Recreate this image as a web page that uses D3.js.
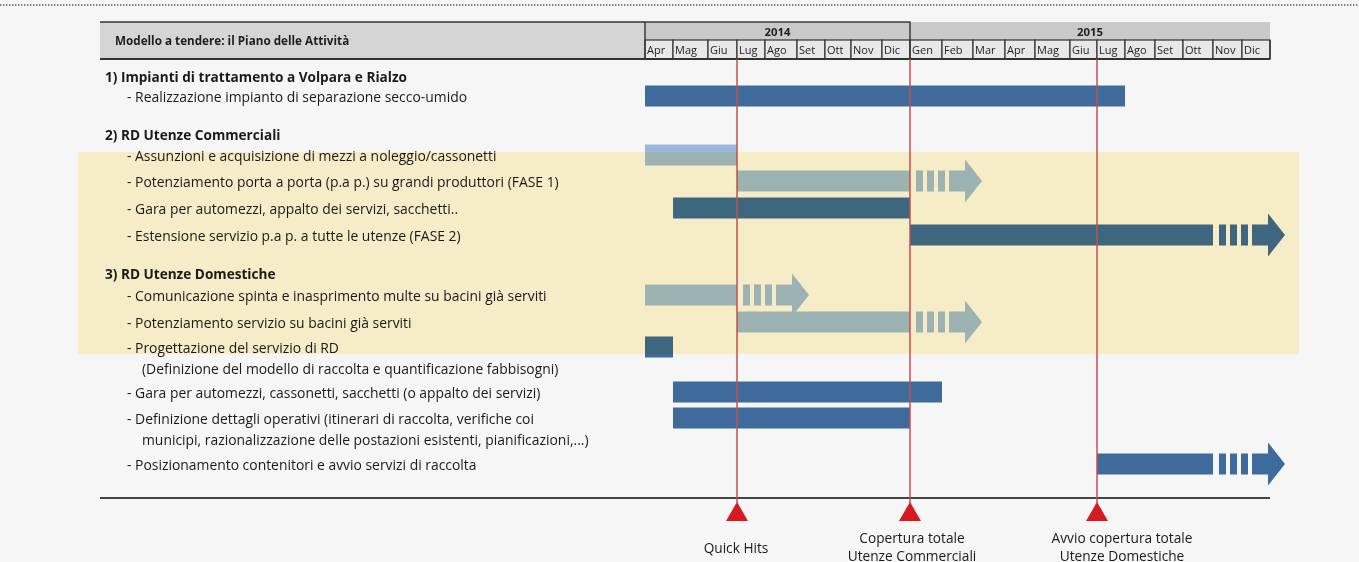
<!DOCTYPE html>
<html><head><meta charset="utf-8">
<script src="https://cdn.jsdelivr.net/npm/d3@7"></script>
<style>
html,body{margin:0;padding:0;background:#f6f6f6;}
svg{display:block;font-family:"Open Sans",Lato,sans-serif;}
</style></head>
<body>
<svg id="chart" width="1359" height="562"></svg>
<script>
// ---------- DATA ----------
const chartTitle = "Modello a tendere: il Piano delle Attività";
const years = ["2014", "2015"];
const months2014 = ["Apr","Mag","Giu","Lug","Ago","Set","Ott","Nov","Dic"];
const months2015 = ["Gen","Feb","Mar","Apr","Mag","Giu","Lug","Ago","Set","Ott","Nov","Dic"];
const sectionLabels = [
  "1) Impianti di trattamento a Volpara e Rialzo",
  "2) RD Utenze Commerciali",
  "3) RD Utenze Domestiche"
];
const taskLabels = [
  ["- Realizzazione impianto di separazione secco-umido"],
  ["- Assunzioni e acquisizione di mezzi a noleggio/cassonetti"],
  ["- Potenziamento porta a porta (p.a p.) su grandi produttori (FASE 1)"],
  ["- Gara per automezzi, appalto dei servizi, sacchetti.."],
  ["- Estensione servizio p.a p.  a tutte le utenze (FASE 2)"],
  ["- Comunicazione spinta e inasprimento multe su bacini già serviti"],
  ["- Potenziamento servizio su bacini già serviti"],
  ["- Progettazione del servizio di RD", "(Definizione del modello di raccolta e quantificazione fabbisogni)"],
  ["- Gara per automezzi, cassonetti, sacchetti (o appalto dei servizi)"],
  ["- Definizione dettagli operativi (itinerari di raccolta, verifiche coi", "municipi, razionalizzazione delle postazioni esistenti, pianificazioni,...)"],
  ["- Posizionamento contenitori e avvio servizi di raccolta"]
];
// month index: 0 = Apr 2014 ... 20 = Dic 2015 ; end = first month not covered
const taskStart = [0, 0, 3, 1, 9, 0, 3, 0, 1, 1, 15];
const taskEnd   = [16, 3, 9, 9, 19, 3, 9, 1, 10, 9, 19];
const taskTone  = ["blue","light","light","blue","blue","light","light","blue","blue","blue","blue"];
const taskArrow = [false, false, true, false, true, true, true, false, false, false, true];
const milestoneMonth = [3, 9, 15];
const milestoneLabels = [["Quick Hits"], ["Copertura totale","Utenze Commerciali"], ["Avvio copertura totale","Utenze Domestiche"]];

// ---------- LAYOUT ----------
const monthLabels = months2014.concat(months2015);
const colW = [28,35,29,28,32,28,26,31,28, 32,31,32,30,35,27,28,30,28,30,29,28];
const gridX0 = 645;
const bounds = [gridX0];
colW.forEach(w => bounds.push(bounds[bounds.length-1] + w));
const x = d3.scaleLinear().domain(d3.range(bounds.length)).range(bounds);

const sectionY = d3.scaleOrdinal().domain(d3.range(sectionLabels.length)).range([77, 135, 274]);
const taskY = d3.scaleOrdinal().domain(d3.range(taskLabels.length))
  .range([96, 155, 181, 208, 235, 295, 322, 347, 392, 418, 464]);
const barH = 21;
const color = {blue: "#3e6b9c", light: "#9cb9dc"};
const labelDx = [-1, 2, 25];

const svg = d3.select("#chart");

// top dotted line
svg.append("line").attr("x1", 0).attr("x2", 1359).attr("y1", 5).attr("y2", 5)
  .attr("stroke", "#555").attr("stroke-width", 1.4).attr("stroke-dasharray", "1.4,1.6");

// ---------- HEADER ----------
const hTop = 22, hMid = 40, hBot = 59, hLeft = 100;
const head = svg.append("g");
head.append("rect").attr("x", hLeft).attr("y", hTop).attr("width", gridX0 - hLeft).attr("height", hBot - hTop).attr("fill", "#d5d5d5");
head.append("rect").attr("x", gridX0).attr("y", hTop).attr("width", x(21) - gridX0).attr("height", hMid - hTop).attr("fill", "#c9c9c9");
head.append("text").attr("x", 115).attr("y", 45).attr("font-size", 11.7).attr("font-weight", "bold").attr("fill", "#1e1e1e").text(chartTitle);

// month cells
head.selectAll("rect.m").data(monthLabels).join("rect").attr("class", "m")
  .attr("x", (d, i) => x(i)).attr("y", hMid).attr("width", (d, i) => x(i + 1) - x(i)).attr("height", hBot - hMid)
  .attr("fill", "#e8e8e8").attr("stroke", "#333").attr("stroke-width", 1.2);
head.selectAll("text.m").data(monthLabels).join("text").attr("class", "m")
  .attr("x", (d, i) => x(i) + 2).attr("y", 54).attr("font-size", 11).attr("fill", "#1e1e1e").text(d => d);

// years
const yearSpan = [[0, 9], [9, 21]];
head.selectAll("text.y").data(years).join("text").attr("class", "y")
  .attr("x", (d, i) => (x(yearSpan[i][0]) + x(yearSpan[i][1])) / 2).attr("y", 35.5)
  .attr("text-anchor", "middle").attr("font-size", 11.3).attr("font-weight", "bold").attr("fill", "#1e1e1e").text(d => d);
// 2014 dark outline
head.append("rect").attr("x", x(0)).attr("y", hTop).attr("width", x(9) - x(0)).attr("height", hBot - hTop)
  .attr("fill", "none").attr("stroke", "#333").attr("stroke-width", 1.4);
// borders of title area
head.append("line").attr("x1", hLeft).attr("x2", gridX0).attr("y1", hTop).attr("y2", hTop).attr("stroke", "#333").attr("stroke-width", 1.6);
head.append("line").attr("x1", hLeft).attr("x2", x(21)).attr("y1", hBot).attr("y2", hBot).attr("stroke", "#333").attr("stroke-width", 1.8);
head.append("line").attr("x1", x(21)).attr("x2", x(21)).attr("y1", hMid).attr("y2", hBot).attr("stroke", "#333").attr("stroke-width", 1.4);

// ---------- LABELS ----------
svg.selectAll("text.sec").data(sectionLabels).join("text").attr("class", "sec")
  .attr("x", 105).attr("y", (d, i) => sectionY(i) + 5).attr("font-size", 13.6).attr("font-weight", "bold").attr("fill", "#1a1a1a").text(d => d);

const tl = svg.selectAll("g.tl").data(taskLabels).join("g").attr("class", "tl");
tl.selectAll("text").data((d, i) => d.map((t, j) => ({t, j, i}))).join("text")
  .attr("x", d => d.j === 0 ? 127 : 142)
  .attr("y", d => taskY(d.i) + 5.5 + d.j * 21.5)
  .attr("font-size", 13.9).attr("fill", "#1a1a1a").text(d => d.t);

// ---------- BARS ----------
const bars = svg.append("g");
taskLabels.forEach((lab, i) => {
  const g = bars.append("g").attr("fill", color[taskTone[i]]);
  const yc = taskY(i), x0 = x(taskStart[i]), x1 = x(taskEnd[i]);
  g.append("rect").attr("x", x0).attr("y", yc - barH / 2).attr("width", x1 - x0).attr("height", barH);
  if (taskArrow[i]) {
    [6, 17, 28].forEach(o => g.append("rect").attr("x", x1 + o).attr("y", yc - barH / 2).attr("width", 7).attr("height", barH));
    const hh = barH / 2 + 11;
    const p = d3.path();
    p.moveTo(x1 + 39, yc - barH / 2);
    p.lineTo(x1 + 55, yc - barH / 2);
    p.lineTo(x1 + 55, yc - hh);
    p.lineTo(x1 + 72, yc);
    p.lineTo(x1 + 55, yc + hh);
    p.lineTo(x1 + 55, yc + barH / 2);
    p.lineTo(x1 + 39, yc + barH / 2);
    p.closePath();
    g.append("path").attr("d", p.toString());
  }
});

// yellow highlight band (multiply)
svg.append("rect").attr("x", 78).attr("y", 152).attr("width", 1299 - 78).attr("height", 354 - 152)
  .attr("fill", "#fff5d0").style("mix-blend-mode", "multiply");

// ---------- MILESTONES ----------
const axisY = 498;
svg.append("line").attr("x1", hLeft).attr("x2", x(21)).attr("y1", axisY).attr("y2", axisY).attr("stroke", "#444").attr("stroke-width", 2);
svg.selectAll("line.ms").data(milestoneMonth).join("line").attr("class", "ms")
  .attr("x1", d => x(d)).attr("x2", d => x(d)).attr("y1", hBot).attr("y2", 503)
  .attr("stroke", "#c0504d").attr("stroke-width", 1.5);
svg.selectAll("path.tri").data(milestoneMonth).join("path").attr("class", "tri")
  .attr("d", d => `M${x(d)},502 L${x(d) + 11},521 L${x(d) - 11},521 Z`).attr("fill", "#d71920");
const ml = svg.selectAll("g.ml").data(milestoneLabels).join("g").attr("class", "ml");
ml.selectAll("text").data((d, i) => d.map((t, j) => ({t, j, i}))).join("text")
  .attr("x", d => x(milestoneMonth[d.i]) + labelDx[d.i])
  .attr("y", d => (d.i === 0 ? 553 : 543) + d.j * 18)
  .attr("text-anchor", "middle").attr("font-size", 13.7).attr("fill", "#1a1a1a").text(d => d.t);
</script>
</body></html>
